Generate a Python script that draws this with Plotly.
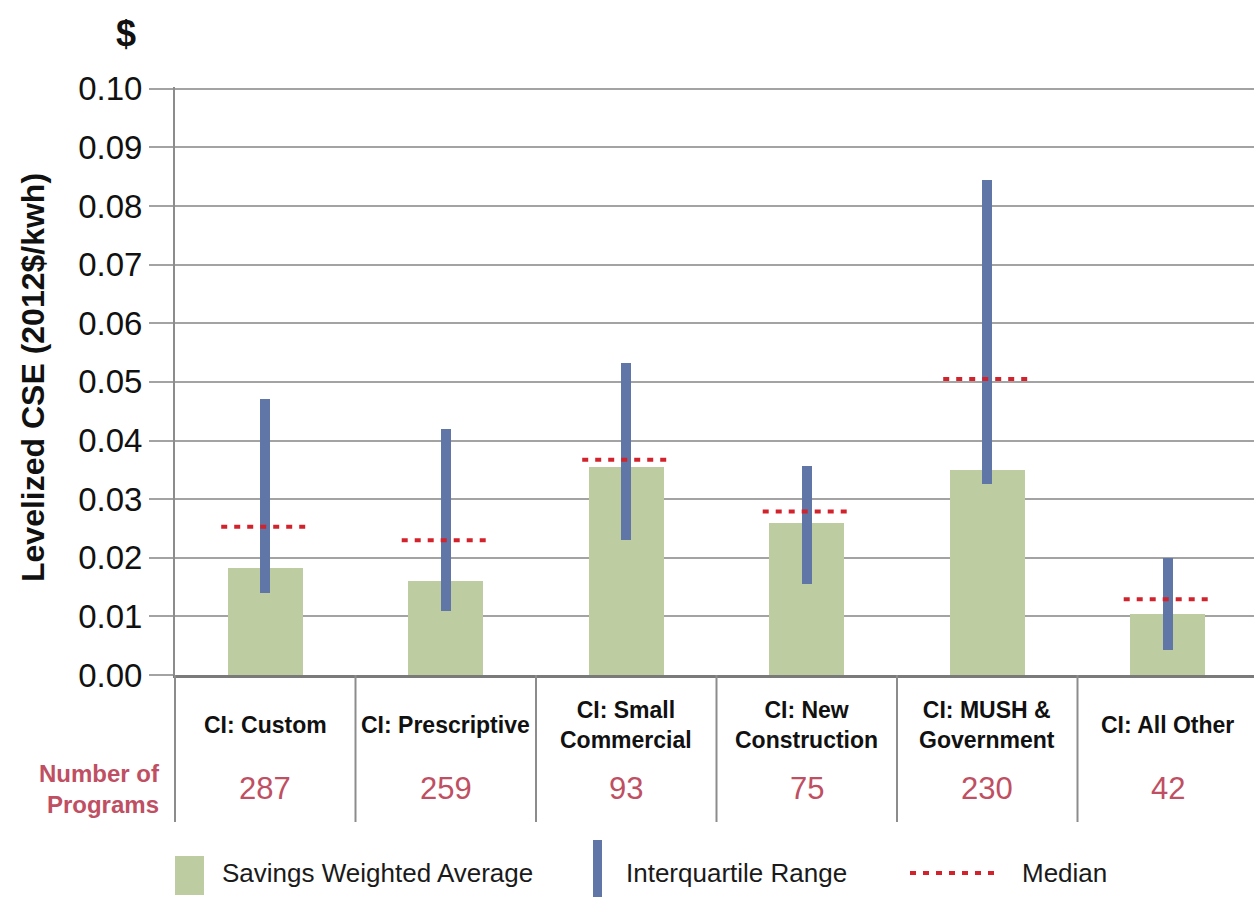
import plotly.graph_objects as go

# Commercial & industrial program categories
categories = ["CI: Custom", "CI: Prescriptive", "CI: Small<br>Commercial",
              "CI: New<br>Construction", "CI: MUSH &<br>Government", "CI: All Other"]
programs = [287, 259, 93, 75, 230, 42]

# Levelized cost of saved energy (2012$/kWh)
weighted_avg = [0.0182, 0.0161, 0.0355, 0.0259, 0.0350, 0.0104]
iqr_low = [0.0140, 0.0110, 0.0231, 0.0156, 0.0325, 0.0043]
iqr_high = [0.0470, 0.0420, 0.0532, 0.0357, 0.0844, 0.0199]
median = [0.0253, 0.0230, 0.0367, 0.0279, 0.0505, 0.0129]

y_ticks = [0.00, 0.01, 0.02, 0.03, 0.04, 0.05, 0.06, 0.07, 0.08, 0.09, 0.10]

GREEN = "#BECCA2"
BLUE = "#5F76A6"
RED = "#D2232D"
ROSE = "#BF4F62"
GRID = "#A3A3A3"
SANS = "Liberation Sans, Arial, sans-serif"

W, H = 1254, 897
L, T, B = 175, 87, 222
plot_w = W - L
plot_h = H - T - B
cat_px = 180.5

def px_x(px):
    return (px - L) / plot_w

def px_y(py):
    return (H - B - py) / plot_h

xs = list(range(len(categories)))

fig = go.Figure()

fig.add_trace(go.Bar(
    x=xs, y=weighted_avg, width=0.415,
    marker=dict(color=GREEN, line=dict(width=0)),
    name="Savings Weighted Average", showlegend=False,
))

fig.add_trace(go.Bar(
    x=xs, y=[h - l for h, l in zip(iqr_high, iqr_low)], base=iqr_low,
    width=0.055, marker=dict(color=BLUE, line=dict(width=0)),
    name="Interquartile Range", showlegend=False,
))

half = 0.244
mx, my = [], []
for i, m in zip(xs, median):
    mx += [i - half, i + half, None]
    my += [m, m, None]
fig.add_trace(go.Scatter(
    x=mx, y=my, mode="lines",
    line=dict(color=RED, width=4, dash="6px,7px"),
    name="Median", showlegend=False,
))

shapes = []
# left axis continues down through the label table
shapes.append(dict(type="line", xref="paper", yref="paper",
                   x0=0, x1=0, y0=0, y1=px_y(822),
                   line=dict(color="#8C8C8C", width=2)))
for i in range(1, len(categories)):
    shapes.append(dict(type="line", xref="x", yref="paper",
                       x0=i - 0.5, x1=i - 0.5, y0=0, y1=px_y(822),
                       line=dict(color="#8C8C8C", width=2)))

# legend swatches
shapes.append(dict(type="rect", xref="paper", yref="paper",
                   x0=px_x(175), x1=px_x(204), y0=px_y(856), y1=px_y(895),
                   fillcolor=GREEN, line=dict(width=0)))
shapes.append(dict(type="rect", xref="paper", yref="paper",
                   x0=px_x(593), x1=px_x(602), y0=px_y(840), y1=px_y(900),
                   fillcolor=BLUE, line=dict(width=0)))
shapes.append(dict(type="line", xref="paper", yref="paper",
                   x0=px_x(910), x1=px_x(998), y0=px_y(873), y1=px_y(873),
                   line=dict(color=RED, width=4, dash="6px,7px")))

annotations = []
for i, (c, n) in enumerate(zip(categories, programs)):
    annotations.append(dict(
        x=i, y=px_y(725), xref="x", yref="paper", text=f"<b>{c}</b>",
        showarrow=False, xanchor="center", yanchor="middle", align="center",
        font=dict(family=SANS, size=23, color="#111111"),
    ))
    annotations.append(dict(
        x=i, y=px_y(789), xref="x", yref="paper", text=str(n),
        showarrow=False, xanchor="center", yanchor="middle",
        font=dict(family=SANS, size=31, color=ROSE),
    ))

annotations.append(dict(
    x=px_x(162), y=px_y(789), xref="paper", yref="paper",
    text="<b>Number of<br>Programs</b>", showarrow=False,
    xanchor="right", yanchor="middle", align="right",
    font=dict(family=SANS, size=24, color=ROSE),
))
annotations.append(dict(
    x=px_x(126), y=px_y(33), xref="paper", yref="paper",
    text="<b>$</b>", showarrow=False, xanchor="center", yanchor="middle",
    font=dict(family=SANS, size=36, color="#111111"),
))
annotations.append(dict(
    x=px_x(33), y=px_y(378), xref="paper", yref="paper",
    text="<b>Levelized CSE (2012$/kwh)</b>", showarrow=False, textangle=-90,
    xanchor="center", yanchor="middle",
    font=dict(family=SANS, size=32, color="#111111"),
))

legend_items = [("Savings Weighted Average", 220), ("Interquartile Range", 624), ("Median", 1020)]
for label, lx in legend_items:
    annotations.append(dict(
        x=px_x(lx), y=px_y(873), xref="paper", yref="paper", text=label,
        showarrow=False, xanchor="left", yanchor="middle",
        font=dict(family=SANS, size=26, color="#1a1a1a"),
    ))

fig.update_layout(
    width=W, height=H,
    margin=dict(l=L, r=0, t=T, b=B),
    paper_bgcolor="white", plot_bgcolor="white",
    barmode="overlay", bargap=0,
    shapes=shapes, annotations=annotations,
    showlegend=False,
)

fig.update_xaxes(
    range=[-0.5, -0.5 + plot_w / cat_px],
    showticklabels=False, ticks="", showgrid=False, zeroline=False,
    showline=True, linecolor="#7A7A7A", linewidth=3,
)
fig.update_yaxes(
    range=[0, 0.1003], tickvals=y_ticks, tickformat=".2f",
    showgrid=True, gridcolor=GRID, gridwidth=2, zeroline=False,
    showline=True, linecolor="#8C8C8C", linewidth=2,
    ticks="outside", ticklen=24, tickwidth=2, tickcolor=GRID,
    tickfont=dict(family=SANS, size=33, color="#111111"),
)

fig.write_html("out.html")
